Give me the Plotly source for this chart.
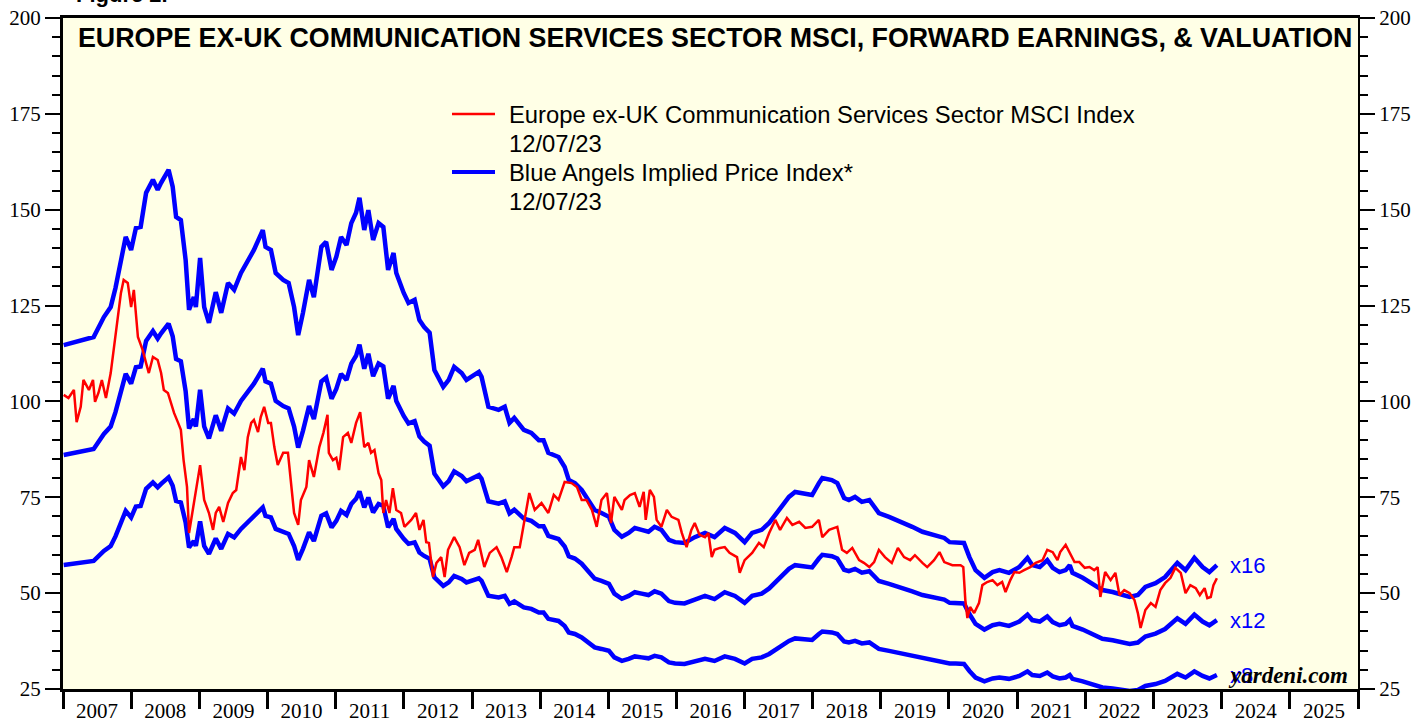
import pandas as pd
import plotly.graph_objects as go

# ---------------- data ----------------
# Blue Angels implied price index at a x16 forward P/E (x12 and x8 are scaled copies)
blue_years = [2007.01, 2007.16, 2007.45, 2007.60, 2007.70, 2007.77, 2007.85, 2007.92, 2008.00, 2008.07,
              2008.14, 2008.22, 2008.32, 2008.39, 2008.44, 2008.55, 2008.61, 2008.66, 2008.73, 2008.76,
              2008.80, 2008.85, 2008.92, 2008.95, 2009.01, 2009.07, 2009.14, 2009.24, 2009.32, 2009.42,
              2009.51, 2009.61, 2009.71, 2009.80, 2009.93, 2009.97, 2010.05, 2010.12, 2010.23, 2010.31,
              2010.39, 2010.45, 2010.52, 2010.61, 2010.68, 2010.79, 2010.86, 2010.94, 2011.01, 2011.08,
              2011.16, 2011.23, 2011.30, 2011.35, 2011.42, 2011.48, 2011.55, 2011.63, 2011.70, 2011.77,
              2011.85, 2011.89, 2012.00, 2012.07, 2012.16, 2012.23, 2012.30, 2012.38, 2012.45, 2012.58,
              2012.66, 2012.74, 2012.85, 2012.92, 2013.10, 2013.14, 2013.24, 2013.39, 2013.48, 2013.55,
              2013.62, 2013.76, 2013.87, 2013.98, 2014.05, 2014.12, 2014.27, 2014.36, 2014.42, 2014.51,
              2014.61, 2014.71, 2014.80, 2014.90, 2015.01, 2015.09, 2015.20, 2015.30, 2015.39, 2015.49,
              2015.59, 2015.68, 2015.78, 2015.89, 2015.98, 2016.12, 2016.27, 2016.42, 2016.56, 2016.71,
              2016.86, 2017.00, 2017.11, 2017.25, 2017.36, 2017.45, 2017.55, 2017.65, 2017.74, 2017.87,
              2017.99, 2018.09, 2018.14, 2018.28, 2018.36, 2018.46, 2018.53, 2018.62, 2018.72, 2018.83,
              2018.97, 2019.12, 2019.31, 2019.46, 2019.61, 2019.80, 2019.93, 2020.01, 2020.10, 2020.22,
              2020.30, 2020.39, 2020.52, 2020.64, 2020.74, 2020.88, 2021.03, 2021.15, 2021.22, 2021.33,
              2021.44, 2021.52, 2021.62, 2021.71, 2021.77, 2021.81, 2021.96, 2022.10, 2022.25, 2022.40,
              2022.54, 2022.65, 2022.77, 2022.88, 2023.03, 2023.17, 2023.35, 2023.47, 2023.60, 2023.72,
              2023.82, 2023.88, 2023.93]
blue_x16 = [114.7, 115.5, 116.8, 122.0, 124.6, 129.6, 136.9, 142.9, 139.5, 145.2,
            145.5, 154.4, 157.8, 155.2, 157.0, 160.4, 156.0, 148.1, 147.3, 142.1,
            136.9, 123.9, 127.2, 124.6, 137.4, 124.6, 120.5, 128.5, 123.1, 130.9,
            129.1, 133.5, 136.9, 139.5, 144.7, 140.3, 139.5, 133.5, 131.7, 130.9,
            124.6, 117.3, 123.1, 131.7, 127.2, 140.3, 141.6, 134.3, 137.7, 142.9,
            140.8, 146.5, 149.2, 153.1, 144.7, 149.9, 142.1, 146.5, 145.5, 134.3,
            138.7, 133.5, 128.3, 125.7, 126.5, 121.2, 119.4, 117.9, 108.2, 103.8,
            105.6, 109.0, 107.4, 105.6, 107.7, 106.4, 98.6, 97.8, 98.6, 94.4,
            95.7, 92.6, 91.8, 89.9, 89.9, 86.6, 85.5, 82.9, 79.5, 78.7,
            76.9, 74.3, 71.7, 70.9, 69.9, 66.5, 64.7, 65.7, 67.0, 66.5,
            66.0, 67.3, 66.5, 63.9, 63.3, 63.1, 64.6, 65.7, 64.6, 67.0,
            65.7, 63.3, 65.7, 66.5, 68.3, 70.4, 73.0, 75.1, 76.4, 76.1,
            75.6, 78.7, 80.0, 79.5, 78.7, 74.8, 74.3, 75.1, 73.8, 74.3,
            70.9, 69.9, 68.6, 67.3, 66.0, 65.2, 64.4, 63.3, 63.3, 63.1,
            59.4, 56.0, 54.0, 55.5, 56.0, 55.3, 56.8, 59.2, 57.3, 56.8,
            58.6, 56.6, 55.5, 56.0, 57.3, 55.3, 54.0, 52.6, 50.8, 50.3,
            49.5, 49.0, 49.5, 51.6, 52.6, 54.2, 57.9, 56.0, 59.2, 56.8,
            55.5, 56.6, 57.3]
multiples = [16, 12, 8]
multiple_labels = ["x16", "x12", "x8"]

# Europe ex-UK Communication Services Sector MSCI Index
red_years = [2007.01, 2007.08, 2007.16, 2007.20, 2007.26, 2007.30, 2007.38, 2007.44, 2007.47, 2007.52,
             2007.57, 2007.63, 2007.70, 2007.75, 2007.80, 2007.85, 2007.89, 2007.95, 2008.00, 2008.04,
             2008.10, 2008.17, 2008.22, 2008.26, 2008.32, 2008.39, 2008.44, 2008.48, 2008.54, 2008.58,
             2008.63, 2008.69, 2008.73, 2008.77, 2008.82, 2008.85, 2008.91, 2008.95, 2009.01, 2009.07,
             2009.14, 2009.20, 2009.24, 2009.29, 2009.35, 2009.42, 2009.49, 2009.54, 2009.61, 2009.66,
             2009.71, 2009.76, 2009.80, 2009.86, 2009.90, 2009.95, 2010.01, 2010.05, 2010.10, 2010.15,
             2010.23, 2010.30, 2010.35, 2010.39, 2010.45, 2010.49, 2010.57, 2010.61, 2010.68, 2010.76,
             2010.82, 2010.88, 2010.90, 2010.96, 2011.01, 2011.05, 2011.11, 2011.18, 2011.23, 2011.30,
             2011.36, 2011.42, 2011.48, 2011.52, 2011.57, 2011.63, 2011.67, 2011.70, 2011.74, 2011.79,
             2011.84, 2011.89, 2011.96, 2012.01, 2012.11, 2012.18, 2012.23, 2012.29, 2012.33, 2012.37,
             2012.43, 2012.48, 2012.55, 2012.60, 2012.65, 2012.74, 2012.82, 2012.89, 2012.96, 2013.04,
             2013.09, 2013.18, 2013.26, 2013.36, 2013.43, 2013.51, 2013.58, 2013.62, 2013.70, 2013.76,
             2013.80, 2013.84, 2013.92, 2014.02, 2014.12, 2014.20, 2014.27, 2014.36, 2014.46, 2014.54,
             2014.61, 2014.68, 2014.76, 2014.83, 2014.90, 2014.98, 2015.04, 2015.09, 2015.20, 2015.24,
             2015.32, 2015.39, 2015.46, 2015.52, 2015.55, 2015.61, 2015.67, 2015.71, 2015.78, 2015.86,
             2015.93, 2016.03, 2016.08, 2016.15, 2016.22, 2016.27, 2016.34, 2016.42, 2016.47, 2016.52,
             2016.56, 2016.64, 2016.71, 2016.78, 2016.89, 2016.93, 2017.00, 2017.11, 2017.21, 2017.28,
             2017.36, 2017.45, 2017.52, 2017.62, 2017.70, 2017.80, 2017.89, 2017.99, 2018.09, 2018.14,
             2018.24, 2018.36, 2018.43, 2018.50, 2018.58, 2018.68, 2018.75, 2018.83, 2018.90, 2018.97,
             2019.06, 2019.16, 2019.25, 2019.34, 2019.43, 2019.50, 2019.61, 2019.68, 2019.78, 2019.86,
             2019.93, 2020.05, 2020.17, 2020.21, 2020.24, 2020.27, 2020.31, 2020.37, 2020.44, 2020.49,
             2020.56, 2020.64, 2020.71, 2020.78, 2020.83, 2020.90, 2020.96, 2021.03, 2021.10, 2021.19,
             2021.27, 2021.37, 2021.44, 2021.52, 2021.59, 2021.63, 2021.71, 2021.77, 2021.84, 2021.91,
             2021.99, 2022.06, 2022.13, 2022.18, 2022.22, 2022.29, 2022.37, 2022.44, 2022.50, 2022.57,
             2022.65, 2022.72, 2022.77, 2022.81, 2022.88, 2022.96, 2023.03, 2023.10, 2023.17, 2023.25,
             2023.32, 2023.40, 2023.47, 2023.54, 2023.62, 2023.68, 2023.75, 2023.79, 2023.84, 2023.88,
             2023.93]
red_values = [101.7, 100.9, 103.0, 94.6, 98.6, 105.6, 103.0, 105.6, 99.9, 102.2,
              105.6, 100.9, 107.4, 114.2, 120.5, 128.3, 131.7, 130.9, 124.6, 129.1,
              116.8, 113.4, 110.0, 107.4, 111.6, 110.8, 107.4, 103.0, 102.2, 99.6,
              97.0, 94.4, 92.6, 84.7, 77.7, 65.7, 72.5, 76.1, 83.4, 74.3,
              70.9, 66.5, 70.9, 72.5, 68.6, 73.5, 76.1, 76.9, 85.5, 82.1,
              90.7, 94.4, 95.2, 92.0, 95.9, 98.6, 94.4, 94.4, 88.1, 83.4,
              86.6, 86.6, 78.7, 70.9, 67.8, 74.3, 77.7, 84.7, 80.3, 88.1,
              91.8, 96.5, 86.6, 84.7, 85.3, 82.1, 90.7, 91.8, 89.2, 94.4,
              97.2, 88.1, 89.2, 86.6, 87.3, 81.3, 79.5, 70.9, 74.3, 70.9,
              77.4, 71.7, 70.9, 67.3, 69.1, 70.9, 66.5, 69.1, 63.3, 63.1,
              54.2, 57.9, 59.4, 54.2, 61.3, 64.6, 62.0, 57.3, 60.5, 61.3,
              63.9, 56.8, 60.5, 62.0, 59.4, 55.5, 59.4, 62.0, 62.0, 68.3,
              72.5, 76.1, 71.7, 73.5, 70.9, 75.6, 74.3, 79.0, 78.7, 77.7,
              74.3, 74.3, 71.7, 67.3, 74.3, 76.1, 68.3, 75.1, 71.7, 74.3,
              75.6, 76.1, 72.5, 76.4, 69.1, 76.9, 75.1, 69.1, 67.3, 71.7,
              69.9, 69.1, 65.7, 62.0, 66.5, 68.3, 65.2, 64.6, 65.7, 59.4,
              61.3, 61.8, 62.0, 60.5, 59.4, 55.3, 58.6, 60.5, 63.1, 62.0,
              65.7, 69.1, 66.5, 69.6, 67.8, 68.6, 67.0, 67.3, 69.1, 64.6,
              66.5, 67.3, 61.3, 60.5, 61.8, 58.6, 57.9, 56.8, 58.1, 61.3,
              59.4, 57.9, 61.8, 59.4, 58.6, 59.9, 57.9, 56.8, 58.6, 60.7,
              58.1, 57.3, 57.3, 56.8, 48.2, 43.5, 46.4, 44.8, 47.4, 52.1,
              52.9, 53.4, 52.1, 52.9, 50.3, 53.4, 55.5, 55.3, 56.0, 56.8,
              57.9, 58.6, 61.3, 60.7, 58.6, 60.7, 62.6, 60.5, 58.1, 58.1,
              56.6, 56.8, 56.0, 56.8, 49.0, 55.5, 53.4, 55.3, 49.5, 50.8,
              50.0, 48.2, 44.8, 40.9, 45.6, 47.4, 46.4, 50.8, 52.6, 54.0,
              56.6, 55.3, 50.0, 52.1, 51.3, 49.5, 51.3, 48.7, 49.0, 52.1,
              53.9]

y_ticks = [25, 50, 75, 100, 125, 150, 175, 200]
title_text = "EUROPE EX-UK COMMUNICATION SERVICES SECTOR MSCI, FORWARD EARNINGS, & VALUATION"
legend_red = "Europe ex-UK Communication Services Sector MSCI Index"
legend_blue = "Blue Angels Implied Price Index*"
legend_date = "12/07/23"


def to_dates(years):
    out = []
    for y in years:
        base = pd.Timestamp(int(y), 1, 1)
        out.append(base + pd.Timedelta(days=(y - int(y)) * 365.25))
    return out


blue_dates = to_dates(blue_years)
red_dates = to_dates(red_years)

BLUE = "#0000FF"
RED = "#FF0000"
SANS = "Liberation Sans, Arial, sans-serif"
SERIF = "Liberation Serif, Times New Roman, serif"

fig = go.Figure()
for m in multiples:
    vals = [v * m / 16 for v in blue_x16]
    fig.add_trace(go.Scatter(x=blue_dates, y=vals, mode="lines",
                             line=dict(color=BLUE, width=4.5), showlegend=False,
                             name=f"x{m}"))
fig.add_trace(go.Scatter(x=red_dates, y=red_values, mode="lines",
                         line=dict(color=RED, width=2.5), showlegend=False, name=legend_red))
# invisible trace to activate right axis
fig.add_trace(go.Scatter(x=[blue_dates[0]], y=[blue_x16[0]], yaxis="y2", mode="markers",
                         marker=dict(opacity=0), showlegend=False, hoverinfo="skip"))

# multiple labels at the right end of the blue lines
last_date = pd.Timestamp("2024-02-04")
for m, lab in zip(multiples, multiple_labels):
    fig.add_annotation(x=last_date, y=blue_x16[-1] * m / 16, xref="x", yref="y", text=lab,
                       showarrow=False, xanchor="left", font=dict(family=SANS, size=22, color=BLUE))

fig.add_annotation(x=0.994, y=28.6, xref="paper", yref="y", text="<b><i>yardeni.com</i></b>",
                   showarrow=False, xanchor="right", font=dict(family=SERIF, size=23, color="black"))

fig.add_annotation(x=0.5035, y=0.970, xref="paper", yref="paper", text=f"<b>{title_text}</b>",
                   showarrow=False, xanchor="center", yanchor="middle",
                   font=dict(family=SANS, size=26.8, color="black"))

fig.add_annotation(x=0.0085, y=1.0134, xref="paper", yref="paper", text="<b>Figure 2.</b>",
                   showarrow=False, xanchor="left", yanchor="bottom",
                   font=dict(family=SANS, size=22, color="black"))

# legend (manual)
leg_x0 = (452 - 63) / 1295
leg_x1 = (495 - 63) / 1295
txt_x = (507 - 63) / 1295
def py(p):
    return (689 - p) / 671
fig.add_shape(type="line", xref="paper", yref="paper", x0=leg_x0, x1=leg_x1, y0=py(114), y1=py(114),
              line=dict(color=RED, width=2.5))
fig.add_shape(type="line", xref="paper", yref="paper", x0=leg_x0, x1=leg_x1, y0=py(172), y1=py(172),
              line=dict(color=BLUE, width=4))
for txt, ypix in [(legend_red, 114), (legend_date, 143), (legend_blue, 172), (legend_date, 201)]:
    fig.add_annotation(x=txt_x, y=py(ypix), xref="paper", yref="paper", text=txt, showarrow=False,
                       xanchor="left", yanchor="middle", font=dict(family=SANS, size=23.8, color="black"))

axis_common = dict(range=[25, 200], tickvals=y_ticks, ticks="outside", ticklen=15, tickwidth=2,
                   tickcolor="black", showgrid=False, zeroline=False, automargin=False,
                   ticklabeloverflow="allow",
                   tickfont=dict(family=SERIF, size=21, color="black"),
                   minor=dict(dtick=5, tick0=25, ticks="outside", ticklen=8, tickwidth=2,
                              tickcolor="black", showgrid=False))

fig.update_layout(
    width=1427, height=719,
    margin=dict(l=63, r=69, t=18, b=30, autoexpand=False),
    paper_bgcolor="white", plot_bgcolor="#FFFFE6",
    showlegend=False,
    xaxis=dict(type="date", range=["2007-01-01", "2026-01-01"], dtick="M12", tick0="2007-01-01",
               tickformat="%Y", ticklabelmode="period", ticks="outside", ticklen=17, tickwidth=3,
               tickcolor="black", showline=True, linecolor="black", linewidth=3, mirror=True,
               showgrid=False, zeroline=False, automargin=False, ticklabeloverflow="allow",
               ticklabelstandoff=-16,
               tickfont=dict(family=SERIF, size=21, color="black")),
    yaxis=dict(showline=True, linecolor="black", linewidth=3, side="left", **axis_common),
    yaxis2=dict(overlaying="y", side="right", showline=True, linecolor="black", linewidth=2,
                **axis_common),
)

# remove the default page margin so the figure sits at the top-left corner of the window
fig.write_html("out.html", config={"displayModeBar": False},
               post_script="document.body.style.margin='0px';")
